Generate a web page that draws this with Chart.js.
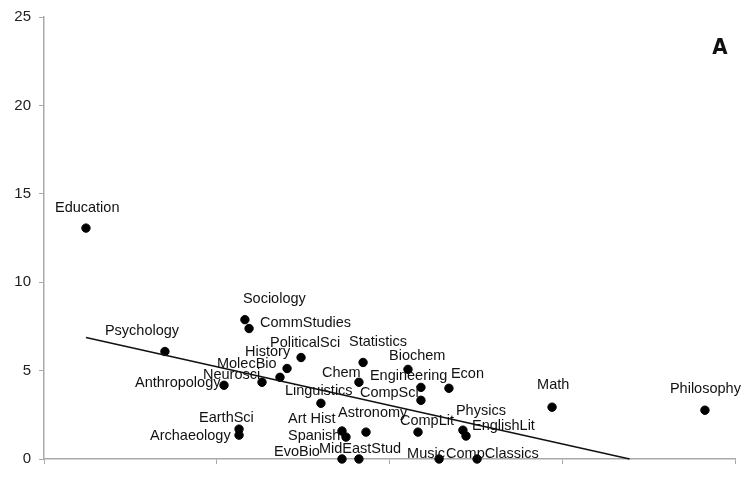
<!DOCTYPE html>
<html>
<head>
<meta charset="utf-8">
<script src="https://cdn.jsdelivr.net/npm/chart.js@4/dist/chart.umd.min.js"></script>
<style>
html,body{margin:0;padding:0;background:#fff;}
#wrap{width:752px;height:491px;position:relative;}
</style>
</head>
<body>
<div id="wrap"><canvas id="c" width="752" height="491"></canvas></div>
<script>
const fields = ["Education","Psychology","Sociology","CommStudies","PoliticalSci","History","MolecBio","Neurosci","Anthropology","Statistics","Chem","Biochem","Engineering","Econ","CompSci","Linguistics","Astronomy","Art Hist","Spanish","CompLit","Physics","EnglishLit","EarthSci","Archaeology","EvoBio","MidEastStud","Music","CompClassics","Math","Philosophy"];
const xValues = [0.243,0.700,1.163,1.187,1.488,1.407,1.366,1.262,1.042,1.847,1.823,2.107,2.182,2.344,2.182,1.603,1.864,1.725,1.748,2.165,2.425,2.443,1.129,1.129,1.725,1.823,2.287,2.507,2.941,3.826];
const yValues = [13.06,6.08,7.88,7.38,5.74,5.12,4.62,4.34,4.17,5.46,4.34,5.07,4.05,4.0,3.32,3.15,1.52,1.58,1.24,1.52,1.63,1.30,1.69,1.35,0,0,0,0,2.93,2.76];
const trendX = [0.243, 3.39];
const trendY = [6.87, 0];
const yTicks = [0,5,10,15,20,25];

// label placement (pixel offsets from point: left edge x, vertical middle y)
const labelOffsets = [[-31,-20],[-60,-21],[-2,-21],[11,-6],[-31,-15],[-42,-16],[-63,-13],[-59,-7],[-89,-2],[-14,-20],[-37,-9],[-19,-13],[-51,-11],[2,-14],[-61,-7],[-36,-12],[-28,-19],[-54,-12],[-58,-1],[-18,-11],[-7,-19],[6,-10],[-40,-11],[-89,1],[-68,-7],[-40,-10],[-32,-5],[-31,-5],[-15,-22],[-35,-21]];

const points = xValues.map((x,i)=>({x:x,y:yValues[i]}));
const trend = trendX.map((x,i)=>({x:x,y:trendY[i]}));

const labelPlugin = {
  id:'pointLabels',
  afterDatasetsDraw(chart){
    const ctx = chart.ctx;
    const meta = chart.getDatasetMeta(1);
    ctx.save();
    ctx.font = '14.5px "Liberation Sans", Arial, sans-serif';
    ctx.fillStyle = '#111';
    ctx.textAlign = 'left';
    ctx.textBaseline = 'middle';
    meta.data.forEach((el,i)=>{
      const o = labelOffsets[i];
      ctx.fillText(fields[i], el.x + o[0], el.y + o[1]);
    });
    ctx.font = 'bold 22px "DejaVu Sans Condensed", "DejaVu Sans", sans-serif';
    ctx.fillStyle = '#111';
    ctx.textAlign = 'center';
    ctx.fillText('A', 720, 48);
    ctx.restore();
  }
};

new Chart(document.getElementById('c'), {
  type:'scatter',
  data:{
    datasets:[
      {type:'line', data:trend, borderColor:'#111', borderWidth:1.5, pointRadius:0, fill:false, clip:false},
      {data:points, backgroundColor:'#000', borderColor:'#000', pointRadius:4.2, pointHoverRadius:4.2, clip:false}
    ]
  },
  options:{
    responsive:false,
    animation:false,
    devicePixelRatio:1,
    layout:{padding:{top:15,right:17,left:0,bottom:0}},
    plugins:{legend:{display:false},tooltip:{enabled:false}},
    scales:{
      x:{
        type:'linear', min:0, max:4,
        ticks:{stepSize:1, callback:()=> '', display:true},
        grid:{drawOnChartArea:false, tickLength:5, color:'#aaa', lineWidth:1},
        border:{color:'#aaa', width:1.5},
        afterFit(s){ s.height = 32; }
      },
      y:{
        type:'linear', min:0, max:25,
        afterBuildTicks(s){ s.ticks = yTicks.map(v=>({value:v})); },
        ticks:{color:'#222', font:{size:15, family:'"Liberation Sans", Arial, sans-serif'}, padding:8},
        grid:{drawOnChartArea:false, tickLength:5, color:'#aaa', lineWidth:1},
        border:{color:'#aaa', width:1.5},
        afterFit(s){ s.width = 44; }
      }
    }
  },
  plugins:[labelPlugin]
});
</script>
</body>
</html>
